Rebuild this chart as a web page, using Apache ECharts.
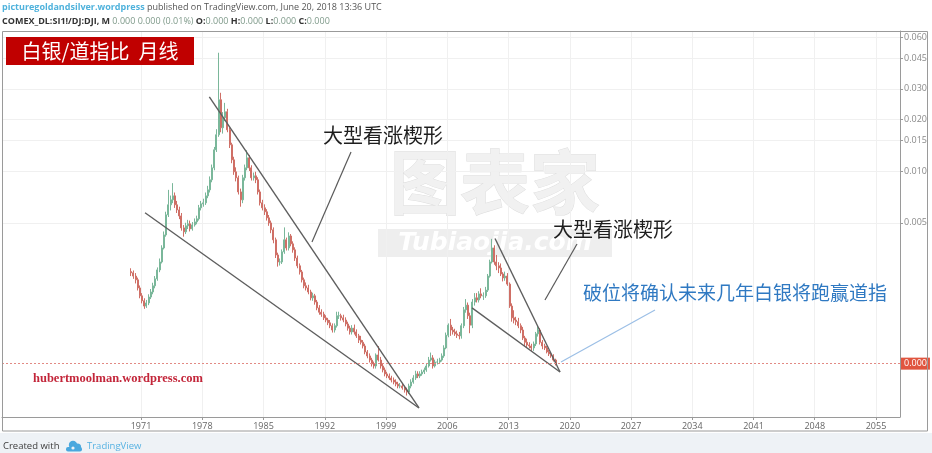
<!DOCTYPE html>
<html>
<head>
<meta charset="utf-8">
<script src="https://cdn.jsdelivr.net/npm/echarts@6/dist/echarts.min.js"></script>
<style>
  html, body { margin: 0; padding: 0; background: #ffffff; }
  #chart { width: 932px; height: 453px; }
</style>
</head>
<body>
<div id="chart"></div>
<script>
// Silver / Dow Jones ratio, quarterly candles, values in per-mille (1 = 0.001)
const firstQuarter = 1969.75;   // first candle starts in Q4 1969
const firstOpen = 2.60;

const closes = [
  2.56,
  2.45, 2.33, 2.09, 1.88,
  1.76, 1.64, 1.71, 1.85,
  1.98, 2.15, 2.36, 2.66,
  2.96, 3.57, 4.25, 5.56,
  6.36, 6.80, 7.17, 6.36,
  5.94, 5.48, 4.67, 4.43,
  4.80, 4.93, 4.61, 4.86,
  5.06, 5.27, 6.11, 6.44,
  6.53, 7.17, 7.77, 8.89,
  10.43, 13.28, 16.24, 25.95,
  17.84, 20.40, 22.10, 17.36,
  14.20, 11.61, 9.89, 9.13,
  7.56, 6.80, 9.13, 10.43,
  11.93, 10.43, 9.13, 9.37,
  8.89, 7.56, 6.53, 6.11,
  5.79, 5.34, 4.99, 4.55,
  3.98, 3.25, 2.96, 2.96,
  3.39, 3.98, 3.57, 4.19,
  3.77, 3.48, 3.12, 2.81,
  2.59, 2.33, 2.15, 2.09,
  1.98, 1.83, 1.88, 1.73,
  1.60, 1.51, 1.47, 1.40,
  1.36, 1.31, 1.26, 1.19,
  1.26, 1.44, 1.44, 1.40,
  1.36, 1.29, 1.22, 1.16,
  1.22, 1.16, 1.10, 1.04,
  1.01, 0.961, 0.887, 0.841,
  0.796, 0.755, 0.735, 0.852,
  0.796, 0.735, 0.697, 0.661,
  0.643, 0.626, 0.609, 0.593,
  0.577, 0.562, 0.562, 0.548,
  0.533, 0.519, 0.562, 0.593,
  0.626, 0.661, 0.643, 0.661,
  0.679, 0.697, 0.735, 0.796,
  0.819, 0.735, 0.775, 0.775,
  0.796, 0.841, 0.936, 1.11,
  1.27, 1.19, 1.16, 1.13,
  1.11, 1.10, 1.26, 1.56,
  1.66, 1.44, 1.27, 1.73,
  1.83, 1.78, 1.93, 1.88,
  1.88, 2.03, 2.45, 2.96,
  3.57, 2.96, 2.81, 2.73,
  2.52, 2.39, 2.45, 2.20,
  1.64, 1.40, 1.36, 1.33,
  1.26, 1.19, 1.07, 1.01,
  0.974, 0.961, 0.936, 0.987,
  1.13, 1.19, 1.01, 0.961,
  0.936, 0.887, 0.864, 0.841,
  0.796, 0.755
];

const highs = [
  2.72,
  2.64, 2.55, 2.40, 2.16,
  1.95, 1.82, 1.78, 1.92,
  2.06, 2.24, 2.45, 2.75,
  3.10, 3.70, 4.45, 5.80,
  7.77, 7.20, 8.50, 7.50,
  6.70, 6.20, 5.70, 4.85,
  5.00, 5.20, 5.15, 5.05,
  5.30, 5.50, 6.35, 6.70,
  6.90, 7.50, 8.20, 9.30,
  10.90, 13.80, 17.50, 48.7,
  28.5, 22.0, 24.9, 23.0,
  17.9, 14.6, 12.1, 10.5,
  9.4, 7.9, 9.5, 10.9,
  13.2, 12.4, 10.8, 9.8,
  9.9, 9.2, 7.8, 6.8,
  6.4, 6.0, 5.55, 5.15,
  4.70, 4.10, 3.35, 3.10,
  3.50, 4.70, 4.10, 4.40,
  4.30, 3.90, 3.60, 3.22,
  2.90, 2.66, 2.40, 2.25,
  2.18, 2.04, 1.96, 1.93,
  1.78, 1.66, 1.57, 1.52,
  1.45, 1.40, 1.36, 1.30,
  1.30, 1.52, 1.52, 1.48,
  1.46, 1.41, 1.33, 1.26,
  1.27, 1.28, 1.20, 1.13,
  1.10, 1.04, 0.99, 0.91,
  0.87, 0.82, 0.78, 0.87,
  0.96, 0.83, 0.76, 0.72,
  0.68, 0.665, 0.645, 0.63,
  0.615, 0.595, 0.585, 0.58,
  0.565, 0.55, 0.58, 0.615,
  0.65, 0.69, 0.685, 0.685,
  0.70, 0.72, 0.765, 0.83,
  0.88, 0.85, 0.80, 0.81,
  0.82, 0.87, 0.97, 1.15,
  1.30, 1.38, 1.24, 1.21,
  1.18, 1.16, 1.30, 1.62,
  1.80, 1.72, 1.50, 1.80,
  1.95, 1.95, 2.00, 2.08,
  1.97, 2.12, 2.52, 3.05,
  4.03, 3.70, 3.25, 2.95,
  2.90, 2.58, 2.60, 2.55,
  2.25, 1.70, 1.55, 1.42,
  1.40, 1.30, 1.24, 1.10,
  1.06, 1.01, 0.99, 1.02,
  1.16, 1.26, 1.22, 1.04,
  0.99, 0.96, 0.91, 0.88,
  0.86, 0.81
];

const lows = [
  2.45,
  2.36, 2.22, 2.02, 1.82,
  1.70, 1.58, 1.60, 1.66,
  1.80, 1.92, 2.08, 2.30,
  2.58, 2.90, 3.50, 4.15,
  5.40, 5.90, 6.50, 6.10,
  5.70, 5.25, 4.50, 4.15,
  4.30, 4.60, 4.45, 4.50,
  4.75, 4.90, 5.15, 5.90,
  6.20, 6.35, 6.95, 7.50,
  8.60, 10.10, 12.90, 15.8,
  16.8, 16.5, 19.5, 16.8,
  13.6, 11.1, 9.5, 8.7,
  7.3, 6.2, 6.5, 8.8,
  10.1, 10.0, 8.8, 8.8,
  8.5, 7.3, 6.3, 5.9,
  5.55, 5.15, 4.80, 4.35,
  3.80, 3.12, 2.78, 2.82,
  2.88, 3.30, 3.45, 3.45,
  3.65, 3.35, 3.00, 2.72,
  2.50, 2.25, 2.08, 2.02,
  1.92, 1.77, 1.76, 1.67,
  1.55, 1.46, 1.42, 1.36,
  1.32, 1.27, 1.22, 1.15,
  1.15, 1.23, 1.38, 1.35,
  1.32, 1.25, 1.18, 1.12,
  1.12, 1.12, 1.07, 1.00,
  0.98, 0.93, 0.86, 0.815,
  0.77, 0.73, 0.71, 0.71,
  0.78, 0.71, 0.675, 0.64,
  0.625, 0.61, 0.59, 0.575,
  0.56, 0.545, 0.545, 0.535,
  0.515, 0.495, 0.505, 0.545,
  0.58, 0.61, 0.625, 0.625,
  0.645, 0.66, 0.68, 0.72,
  0.78, 0.71, 0.72, 0.75,
  0.755, 0.78, 0.82, 0.92,
  1.08, 1.10, 1.12, 1.10,
  1.07, 1.05, 1.06, 1.22,
  1.50, 1.38, 1.14, 1.22,
  1.65, 1.72, 1.72, 1.82,
  1.78, 1.83, 1.98, 2.40,
  2.90, 2.85, 2.65, 2.55,
  2.45, 2.28, 2.30, 2.15,
  1.60, 1.33, 1.30, 1.27,
  1.22, 1.14, 1.04, 0.96,
  0.94, 0.93, 0.90, 0.90,
  0.96, 1.09, 0.98, 0.92,
  0.91, 0.87, 0.84, 0.82,
  0.78, 0.74
];

// Axis tick labels
const priceTicks = [0.060, 0.045, 0.030, 0.020, 0.015, 0.010, 0.005];
const yearTicks = [1971, 1978, 1985, 1992, 1999, 2006, 2013, 2020, 2027, 2034, 2041, 2048, 2055];

// Visible window: decimal years on x, log10 of the ratio on y
const xRange = [1955.114, 2057.743];
const yRange = [-3.43023, -1.18605];

// Wedge trend lines, [decimal year, ratio in per-mille]
const wedgeLines = [
  [[1971.46, 5.72], [2002.77, 0.419]],
  [[1978.81, 27.0], [2002.77, 0.419]],
  [[2008.83, 1.60], [2018.89, 0.678]],
  [[2011.46, 4.05], [2018.89, 0.678]]
];

// Annotation arrows, [decimal year, ratio in per-mille]
const arrows = [
  { from: [1995.0, 12.9], to: [1990.54, 3.87], color: '#5a5a5a' },
  { from: [2020.83, 3.76], to: [2017.17, 1.78], color: '#5a5a5a' },
  { from: [2029.74, 1.556], to: [2019.0, 0.775], color: '#9cbfe6' }
];

// Annotation texts, anchored by their left edge / vertical middle
const notes = [
  { text: '大型看涨楔形', at: [1991.8, 16.2], color: '#1e1e1e' },
  { text: '大型看涨楔形', at: [2018.09, 4.60], color: '#1e1e1e' },
  { text: '破位将确认未来几年白银将跑赢道指', at: [2021.51, 1.95], color: '#2f79c2' }
];

const toLog = pm => Math.log10(pm / 1000);
// TradingView-style three-decimal price, truncated
const fmt3 = v => (Math.floor(v * 1000 + 1e-6) / 1000).toFixed(3);

const candles = closes.map((c, i) => {
  const t = firstQuarter + 0.25 * i + 0.125;
  const o = i === 0 ? firstOpen : closes[i - 1];
  return [t, toLog(o), toLog(c), toLog(lows[i]), toLog(highs[i])];
});

const UP = '#7ab79a';
const DOWN = '#cf6f66';
const FONT = '"Open Sans", "Noto Sans", sans-serif';
const CJK = '"Noto Sans CJK SC", "Noto Sans", sans-serif';

const lineSeries = wedgeLines.map((seg, k) => ({
  type: 'line',
  silent: true,
  symbol: 'none',
  z: 3,
  data: seg.map(p => [p[0], toLog(p[1])]),
  lineStyle: { color: '#5e5e5e', width: 1.4 },
  markLine: k === 0 ? {
    silent: true,
    symbol: ['none', 'arrow'],
    symbolSize: [0, 8],
    label: { show: false },
    data: arrows.map(a => [
      { coord: [a.from[0], toLog(a.from[1])], lineStyle: { color: a.color, width: 1.2, type: 'solid' }, itemStyle: { color: a.color } },
      { coord: [a.to[0], toLog(a.to[1])] }
    ])
  } : undefined
}));

const chart = echarts.init(document.getElementById('chart'), null, { renderer: 'canvas', width: 932, height: 453 });

const option = {
  backgroundColor: '#ffffff',
  animation: false,
  grid: { left: 2, right: 32, top: 31, bottom: 36, containLabel: false },
  xAxis: {
    type: 'value',
    min: xRange[0],
    max: xRange[1],
    axisLine: { show: true, lineStyle: { color: '#9a9a9a', width: 1 } },
    axisTick: { show: true, length: 3, customValues: yearTicks, lineStyle: { color: '#9a9a9a' } },
    axisLabel: {
      customValues: yearTicks,
      formatter: v => String(Math.round(v)),
      color: '#666666', fontSize: 9, margin: 5, fontFamily: FONT
    },
    splitLine: { show: true, lineStyle: { color: '#f0f0f0', width: 1 } }
  },
  yAxis: {
    type: 'value',
    position: 'right',
    min: yRange[0],
    max: yRange[1],
    axisLine: { show: true, lineStyle: { color: '#9a9a9a', width: 1 } },
    axisTick: { show: true, length: 3, customValues: priceTicks.map(Math.log10), lineStyle: { color: '#9a9a9a' } },
    axisLabel: {
      customValues: priceTicks.map(Math.log10),
      formatter: v => fmt3(Math.pow(10, v)),
      color: '#8a8a8a', fontSize: 9, margin: 4, fontFamily: FONT
    },
    splitLine: { show: true, lineStyle: { color: '#f0f0f0', width: 1 } }
  },
  series: [
    {
      type: 'candlestick',
      data: candles,
      encode: { x: 0, y: [1, 2, 3, 4] },
      barWidth: 1.5,
      z: 2,
      itemStyle: {
        color: UP, color0: DOWN,
        borderColor: UP, borderColor0: DOWN,
        borderWidth: 1
      },
      markLine: {
        silent: true,
        symbol: 'none',
        data: [{ yAxis: toLog(closes[closes.length - 1]) }],
        lineStyle: { color: '#e28a84', type: [2, 2], width: 1 },
        label: {
          show: true,
          position: 'end',
          distance: 1,
          formatter: p => fmt3(Math.pow(10, p.value)),
          color: '#ffffff',
          backgroundColor: '#e0553f',
          fontSize: 9,
          fontFamily: FONT,
          padding: [2, 3, 1, 3]
        }
      }
    },
    ...lineSeries
  ]
};

chart.setOption(option);

// Fixed page furniture: header, footer strip, frame, title box, watermark
const furniture = [
  {
    type: 'rect', z: -10, silent: true,
    shape: { x: 0, y: 433, width: 932, height: 20 },
    style: { fill: '#eef2f6' }
  },
  {
    type: 'rect', z: 50, silent: true,
    shape: { x: 2.5, y: 31.5, width: 925, height: 399.5 },
    style: { fill: 'none', stroke: '#9a9a9a', lineWidth: 1 }
  },
  {
    type: 'text', z: 50, x: 2, y: 7, silent: true,
    style: {
      text: '{a|picturegoldandsilver.wordpress}{b| published on TradingView.com, June 20, 2018 13:36 UTC}',
      verticalAlign: 'middle',
      rich: {
        a: { fill: '#4fb2dc', fontSize: 9, fontWeight: 'bold', fontFamily: FONT },
        b: { fill: '#555555', fontSize: 9, fontFamily: FONT }
      }
    }
  },
  {
    type: 'text', z: 50, x: 2, y: 21, silent: true,
    style: {
      text: '{a|COMEX_DL:SI1!/DJ:DJI, M}{g| 0.000 0.000 (0.01%)}{a| O:}{g|0.000}{a| H:}{g|0.000}{a| L:}{g|0.000}{a| C:}{g|0.000}',
      verticalAlign: 'middle',
      rich: {
        a: { fill: '#333333', fontSize: 9, fontWeight: 'bold', fontFamily: FONT },
        g: { fill: '#7f9a8a', fontSize: 9, fontFamily: FONT }
      }
    }
  },
  {
    type: 'rect', z: 50, silent: true,
    shape: { x: 6, y: 37, width: 188, height: 28 },
    style: { fill: '#c00000' }
  },
  {
    type: 'text', z: 51, x: 100, y: 51, silent: true,
    style: {
      text: '白银/道指比  月线', fill: '#ffffff', fontSize: 20, fontFamily: CJK,
      align: 'center', verticalAlign: 'middle'
    }
  },
  {
    type: 'text', z: 50, x: 33, y: 379, silent: true,
    style: {
      text: 'hubertmoolman.wordpress.com', fill: '#c3263a', fontSize: 12.5, fontWeight: 'bold',
      fontFamily: '"Liberation Serif", "DejaVu Serif", serif', verticalAlign: 'middle'
    }
  },
  // watermark
  {
    type: 'text', z: -5, x: 495, y: 182, silent: true,
    style: {
      text: '图表家', fill: '#f1f1f1', stroke: '#dedede', lineWidth: 1,
      fontSize: 70, fontWeight: 'bold', fontFamily: CJK,
      align: 'center', verticalAlign: 'middle'
    }
  },
  {
    type: 'rect', z: -5, silent: true,
    shape: { x: 378, y: 229, width: 234, height: 28 },
    style: { fill: '#eeeeee' }
  },
  {
    type: 'text', z: -4, x: 495, y: 243, silent: true,
    style: {
      text: 'Tubiaojia.com', fill: '#ffffff', fontSize: 25, fontWeight: 'bold', fontStyle: 'italic',
      fontFamily: '"DejaVu Sans", sans-serif', align: 'center', verticalAlign: 'middle'
    }
  },
  // footer
  {
    type: 'text', z: 50, x: 3, y: 446, silent: true,
    style: { text: 'Created with', fill: '#3c3c3c', fontSize: 9.5, fontFamily: FONT, verticalAlign: 'middle' }
  },
  {
    type: 'group', z: 50, x: 66, y: 440, silent: true,
    children: [
      { type: 'circle', shape: { cx: 7, cy: 5, r: 4.2 }, style: { fill: '#4aa8de' } },
      { type: 'circle', shape: { cx: 11.5, cy: 7, r: 3.6 }, style: { fill: '#4aa8de' } },
      { type: 'rect', shape: { x: 0, y: 7, width: 16, height: 4.5, r: 2 }, style: { fill: '#4aa8de' } },
      { type: 'circle', shape: { cx: 7, cy: 8, r: 1.6 }, style: { fill: '#eef2f6' } }
    ]
  },
  {
    type: 'text', z: 50, x: 87, y: 446, silent: true,
    style: { text: 'TradingView', fill: '#57b2e2', fontSize: 9.5, fontFamily: FONT, verticalAlign: 'middle' }
  }
];

// Annotation texts placed at data coordinates
const noteGraphics = notes.map((n, i) => {
  const p = chart.convertToPixel({ gridIndex: 0 }, [n.at[0], toLog(n.at[1])]);
  return {
    type: 'text', z: 60, x: p[0], y: p[1], silent: true,
    style: { text: n.text, fill: n.color, fontSize: i < 2 ? 20 : 19, fontFamily: CJK, verticalAlign: 'middle' }
  };
});

chart.setOption({ graphic: furniture.concat(noteGraphics) });
</script>
</body>
</html>
